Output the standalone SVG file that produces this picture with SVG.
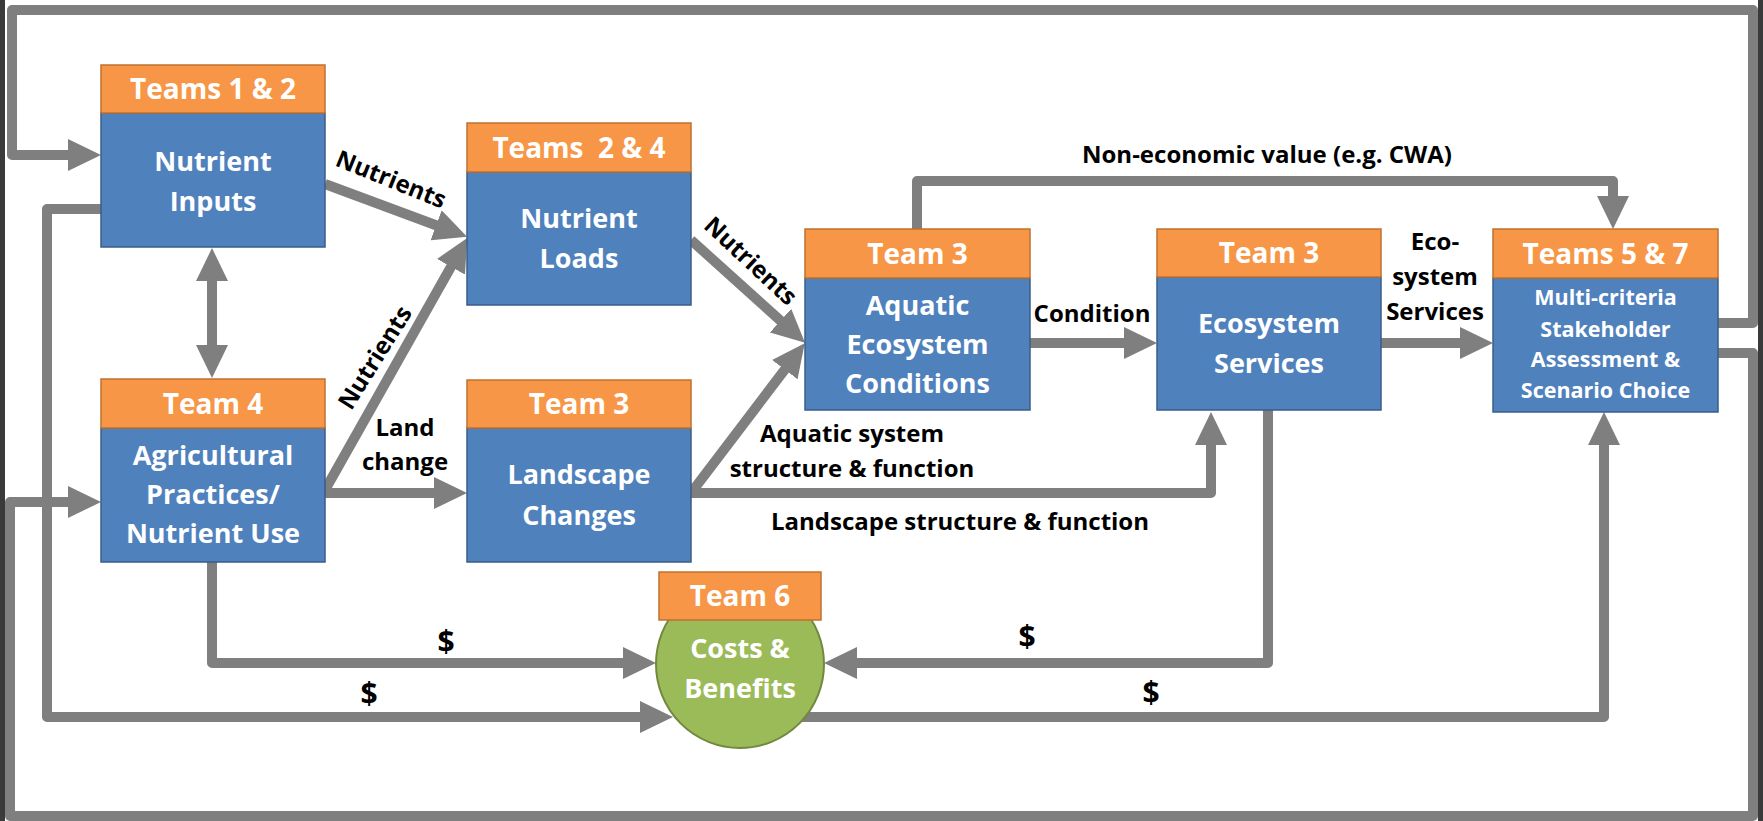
<svg xmlns="http://www.w3.org/2000/svg" width="1763" height="821" viewBox="0 0 1763 821">
  <defs>
    <marker id="head" viewBox="0 0 33 32" refX="2" refY="16" markerWidth="33" markerHeight="32" markerUnits="userSpaceOnUse" orient="auto-start-reverse">
      <path d="M0,0 L33,16 L0,32 z" fill="#7f7f7f"/>
    </marker>
    <style>
      .flow { fill: none; stroke: #7f7f7f; stroke-width: 10; stroke-linejoin: round; }
      .arrow { marker-end: url(#head); }
      .hdr { fill: #f79646; stroke: #c0712f; stroke-width: 1.5; }
      .body { fill: #4f81bd; stroke: #385d8a; stroke-width: 1.5; }
      .disc { fill: #9bbb59; stroke: #71893f; stroke-width: 2; }
      .t-hdr { font-family: "Open Sans", "Liberation Sans", sans-serif; font-weight: bold; font-size: 28px; fill: #ffffff; text-anchor: middle; white-space: pre; }
      .t-body { font-family: "Open Sans", "Liberation Sans", sans-serif; font-weight: bold; font-size: 27px; fill: #ffffff; text-anchor: middle; }
      .t-small { font-family: "Open Sans", "Liberation Sans", sans-serif; font-weight: bold; font-size: 21.5px; fill: #ffffff; text-anchor: middle; }
      .lbl { font-family: "Open Sans", "Liberation Sans", sans-serif; font-weight: bold; font-size: 24px; fill: #000000; text-anchor: middle; }
      .cash { font-family: "Open Sans", "Liberation Sans", sans-serif; font-weight: bold; font-size: 30px; fill: #000000; text-anchor: middle; }
    </style>
  </defs>

  <!-- page -->
  <rect x="0" y="0" width="1763" height="821" fill="#ffffff"/>
  <rect x="0" y="0" width="5" height="821" fill="#3a3a3a"/>
  <rect x="1758" y="0" width="5" height="821" fill="#3a3a3a"/>

  <!-- connectors -->
  <g id="connectors">
    <!-- feedback loops from the stakeholder assessment -->
    <path class="flow arrow" d="M1718,323 H1753 V10 H12 V155 H70"/>
    <path class="flow arrow" d="M1718,353 H1753 V816 H10 V502 H70"/>
    <!-- nutrient inputs <-> agricultural practices -->
    <path class="flow" d="M212,279 V347" marker-start="url(#head)" marker-end="url(#head)"/>
    <!-- nutrients -->
    <path class="flow arrow" d="M325,184 L438,226"/>
    <path class="flow arrow" d="M325,490 L452,265"/>
    <path class="flow arrow" d="M325,493 H436"/>
    <path class="flow arrow" d="M691,240 L782,322"/>
    <path class="flow arrow" d="M691,493 L786,368"/>
    <!-- landscape structure & function -->
    <path class="flow arrow" d="M691,493 H1211 V443"/>
    <!-- condition / ecosystem services -->
    <path class="flow arrow" d="M1030,343 H1126"/>
    <path class="flow arrow" d="M1381,343 H1462"/>
    <!-- non-economic value -->
    <path class="flow arrow" d="M917,229 V181 H1613 V198"/>
    <!-- money flows -->
    <path class="flow arrow" d="M212,562 V663 H625"/>
    <path class="flow arrow" d="M101,209 H47 V717 H642"/>
    <path class="flow arrow" d="M1268,410 V663 H855"/>
    <path class="flow arrow" d="M800,717 H1604 V443"/>

    <!-- connector labels -->
    <text class="lbl" transform="translate(388,187) rotate(22)">Nutrients</text>
    <text class="lbl" transform="translate(382,362) rotate(-58)">Nutrients</text>
    <text class="lbl" transform="translate(745,267) rotate(43)">Nutrients</text>
    <text class="lbl" x="405" y="436">Land</text>
    <text class="lbl" x="405" y="470">change</text>
    <text class="lbl" x="1092" y="322">Condition</text>
    <text class="lbl" x="1435" y="250">Eco-</text>
    <text class="lbl" x="1435" y="285">system</text>
    <text class="lbl" x="1435" y="320">Services</text>
    <text class="lbl" x="1267" y="163">Non-economic value (e.g. CWA)</text>
    <text class="lbl" x="852" y="442">Aquatic system</text>
    <text class="lbl" x="852" y="477">structure &amp; function</text>
    <text class="lbl" x="960" y="530">Landscape structure &amp; function</text>
    <text class="cash" x="446" y="652">$</text>
    <text class="cash" x="369" y="704">$</text>
    <text class="cash" x="1027" y="647">$</text>
    <text class="cash" x="1151" y="703">$</text>
  </g>

  <!-- nodes -->
  <g id="nutrient-inputs">
    <rect class="body" x="101" y="113" width="224" height="134"/>
    <rect class="hdr" x="101" y="65" width="224" height="48"/>
    <text class="t-hdr" x="213" y="99">Teams 1 &amp; 2</text>
    <text class="t-body" x="213" y="171">Nutrient</text>
    <text class="t-body" x="213" y="211">Inputs</text>
  </g>

  <g id="nutrient-loads">
    <rect class="body" x="467" y="172" width="224" height="133"/>
    <rect class="hdr" x="467" y="123" width="224" height="49"/>
    <text class="t-hdr" x="579" y="158">Teams  2 &amp; 4</text>
    <text class="t-body" x="579" y="228">Nutrient</text>
    <text class="t-body" x="579" y="268">Loads</text>
  </g>

  <g id="agricultural-practices">
    <rect class="body" x="101" y="428" width="224" height="134"/>
    <rect class="hdr" x="101" y="379" width="224" height="49"/>
    <text class="t-hdr" x="213" y="414">Team 4</text>
    <text class="t-body" x="213" y="465">Agricultural</text>
    <text class="t-body" x="213" y="504">Practices/</text>
    <text class="t-body" x="213" y="543">Nutrient Use</text>
  </g>

  <g id="landscape-changes">
    <rect class="body" x="467" y="428" width="224" height="134"/>
    <rect class="hdr" x="467" y="380" width="224" height="48"/>
    <text class="t-hdr" x="579" y="414">Team 3</text>
    <text class="t-body" x="579" y="484">Landscape</text>
    <text class="t-body" x="579" y="525">Changes</text>
  </g>

  <g id="aquatic-conditions">
    <rect class="body" x="805" y="278" width="225" height="132"/>
    <rect class="hdr" x="805" y="229" width="225" height="49"/>
    <text class="t-hdr" x="917.5" y="264">Team 3</text>
    <text class="t-body" x="917.5" y="315">Aquatic</text>
    <text class="t-body" x="917.5" y="354">Ecosystem</text>
    <text class="t-body" x="917.5" y="393">Conditions</text>
  </g>

  <g id="ecosystem-services">
    <rect class="body" x="1157" y="277" width="224" height="133"/>
    <rect class="hdr" x="1157" y="229" width="224" height="48"/>
    <text class="t-hdr" x="1269" y="263">Team 3</text>
    <text class="t-body" x="1269" y="333">Ecosystem</text>
    <text class="t-body" x="1269" y="373">Services</text>
  </g>

  <g id="stakeholder-assessment">
    <rect class="body" x="1493" y="278" width="225" height="134"/>
    <rect class="hdr" x="1493" y="229" width="225" height="49"/>
    <text class="t-hdr" x="1605.5" y="264">Teams 5 &amp; 7</text>
    <text class="t-small" x="1605.5" y="305">Multi-criteria</text>
    <text class="t-small" x="1605.5" y="337">Stakeholder</text>
    <text class="t-small" x="1605.5" y="367">Assessment &amp;</text>
    <text class="t-small" x="1605.5" y="398">Scenario Choice</text>
  </g>

  <g id="costs-benefits">
    <circle class="disc" cx="740" cy="664" r="84"/>
    <rect class="hdr" x="659" y="572" width="162" height="48"/>
    <text class="t-hdr" x="740" y="606">Team 6</text>
    <text class="t-body" x="740" y="658">Costs &amp;</text>
    <text class="t-body" x="740" y="698">Benefits</text>
  </g>
</svg>
